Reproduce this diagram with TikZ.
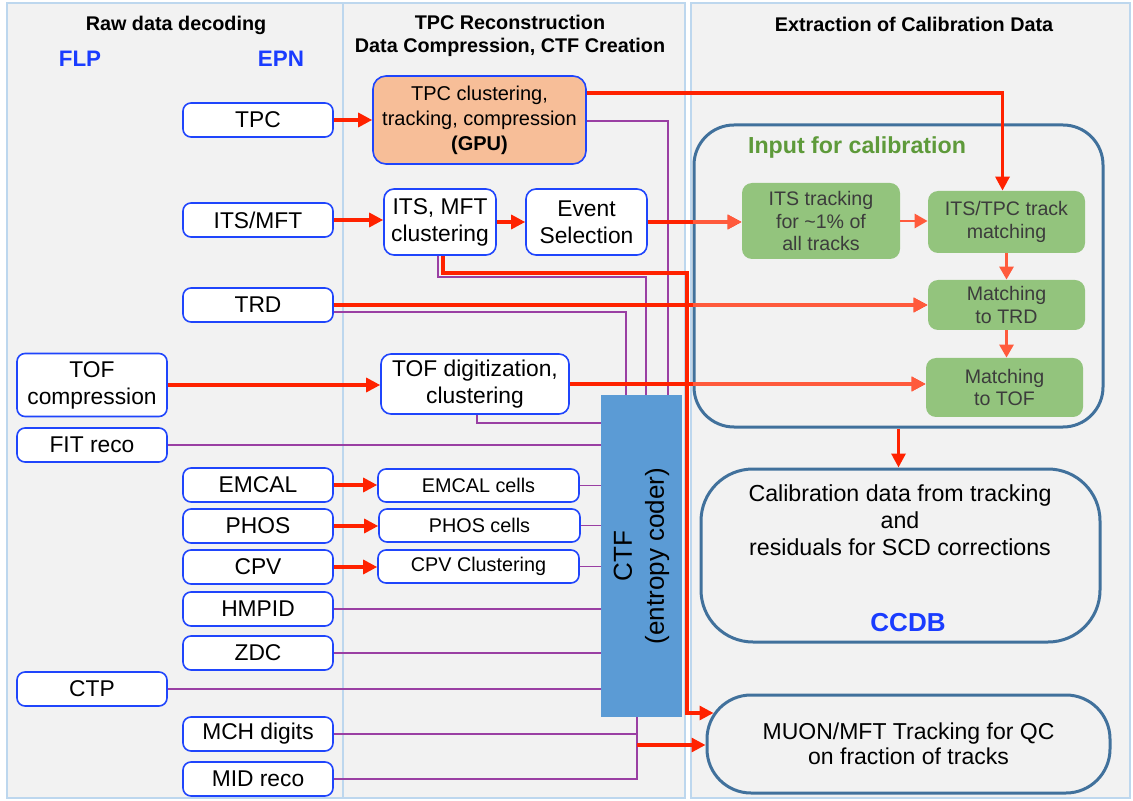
\documentclass[tikz,border=0pt]{standalone}
\usepackage{fontspec}
\setmainfont{Liberation Sans}
\usepackage{graphicx}
\usetikzlibrary{arrows.meta}
\definecolor{panelGray}{HTML}{F2F2F2}
\definecolor{panelEdge}{HTML}{BDD7EE}
\definecolor{boxBlue}{HTML}{1F45FC}
\definecolor{hdrBlue}{HTML}{1A3CFF}
\definecolor{arrRed}{HTML}{FF2200}
\definecolor{arrTomato}{HTML}{FF5A3C}
\definecolor{busPurple}{HTML}{9A3FA3}
\definecolor{gpuOrange}{HTML}{F7BE98}
\definecolor{ctfBlue}{HTML}{5B9BD5}
\definecolor{calEdge}{HTML}{41719C}
\definecolor{calGreen}{HTML}{93C47D}
\definecolor{calTitle}{HTML}{5E9A3A}
\definecolor{calText}{HTML}{3C3C3C}

\begin{document}
\begin{tikzpicture}[x=0.5pt, y=-0.5pt,
    hdr/.style={font=\fontsize{9.9}{11.5}\selectfont\bfseries, align=center},
    site/.style={font=\fontsize{11.2}{13}\selectfont\bfseries, text=hdrBlue},
    epnbox/.style={draw=boxBlue, fill=white, line width=0.8pt, rounded corners=4pt,
      minimum width=75pt, minimum height=17pt, inner sep=1pt, align=center,
      font=\fontsize{11.4}{13.5}\selectfont},
    cellbox/.style={epnbox, minimum width=100.5pt, minimum height=16.5pt,
      font=\fontsize{9.9}{12}\selectfont},
    ctfbox/.style={fill=ctfBlue, minimum width=40.5pt, minimum height=161pt, inner sep=0pt,
      font=\fontsize{13}{16}\selectfont},
    calframe/.style={draw=calEdge, line width=1.5pt, rounded corners=20pt, align=center,
      font=\fontsize{11.5}{12.5}\selectfont},
    greenbox/.style={fill=calGreen, rounded corners=5pt, text=calText, align=center,
      inner sep=1pt, font=\fontsize{9.8}{11.3}\selectfont},
    redarr/.style={draw=arrRed, line width=1.6pt, -{Triangle[length=7pt, width=7pt]}},
    fadearr/.style={redarr, draw=arrTomato},
    tomarr/.style={draw=arrTomato, line width=1.4pt, -{Triangle[length=6.5pt, width=7pt]}},
    pline/.style={draw=busPurple, line width=0.75pt}]
  \useasboundingbox (0,0) rectangle (1133,801);

  % panels
  \filldraw[fill=panelGray, draw=panelEdge, line width=1.2pt] (7,3) rectangle (343,798);
  \filldraw[fill=panelGray, draw=panelEdge, line width=1.2pt] (343,3) rectangle (685,798);
  \filldraw[fill=panelGray, draw=panelEdge, line width=1.2pt] (691,3) rectangle (1130,798);

  \node[hdr] (hraw) at (176,25) {Raw data decoding};
  \node[hdr] (htpc) at (510,36) {TPC Reconstruction\\Data Compression, CTF Creation};
  \node[hdr] (hcal) at (914,24) {Extraction of Calibration Data};
  \node[site] (flp) at (80,59) {FLP};
  \node[site] (epn) at (281,59) {EPN};

  % raw data decoding
  \node[epnbox] (tpc) at (258,120) {TPC};
  \node[epnbox] (itsmft) at (258,220) {ITS/MFT};
  \node[epnbox] (trd) at (258,305) {TRD};
  \node[epnbox, minimum height=31.5pt] (tofc) at (92,385) {TOF\\compression};
  \node[epnbox] (fit) at (92,445) {FIT reco};
  \node[epnbox] (emcal) at (258,485) {EMCAL};
  \node[epnbox] (phos) at (258,526) {PHOS};
  \node[epnbox] (cpv) at (258,567) {CPV};
  \node[epnbox] (hmpid) at (258,609) {HMPID};
  \node[epnbox] (zdc) at (258,653) {ZDC};
  \node[epnbox] (ctp) at (92,689) {CTP};
  \node[epnbox] (mch) at (258,734) {MCH digits};
  \node[epnbox] (mid) at (258,779) {MID reco};

  % reconstruction / compression
  \node[epnbox, fill=gpuOrange, rounded corners=6.5pt, minimum width=106.5pt, minimum height=44pt,
    font=\fontsize{10}{12.5}\selectfont] (tpcgpu) at (479.5,120)
    {TPC clustering,\\tracking, compression\\\textbf{(GPU)}};
  \node[epnbox, rounded corners=5pt, minimum width=56pt, minimum height=33pt] (itsclu) at (440,222) {ITS, MFT\\clustering};
  \node[epnbox, rounded corners=5pt, minimum width=60.5pt, minimum height=33pt] (evsel) at (586.5,222) {Event\\Selection};
  \node[epnbox, rounded corners=5pt, minimum width=94pt, minimum height=30pt] (tofdig) at (475,384) {TOF digitization,\\clustering};
  \node[cellbox] (emcalc) at (478.5,485.5) {EMCAL cells};
  \node[cellbox] (phosc) at (479.5,525.5) {PHOS cells};
  \node[cellbox] (cpvc) at (478.5,566.5) {CPV Clustering};
  \node[ctfbox] (ctf) at (641.5,556)
    {\rotatebox{90}{\begin{tabular}{@{}c@{}}CTF\\(entropy coder)\end{tabular}}};

  % calibration
  \node[calframe, minimum width=204.5pt, minimum height=151pt] (incal) at (898.5,276) {};
  \node[font=\fontsize{11.6}{13}\selectfont\bfseries, text=calTitle] (inlbl) at (857,148) {Input for calibration};
  \node[greenbox, minimum width=79pt, minimum height=38pt] (itstrk) at (821,221) {ITS tracking\\for \textasciitilde1\% of\\all tracks};
  \node[greenbox, minimum width=78.5pt, minimum height=31pt] (itstpc) at (1006.5,222) {ITS/TPC track\\matching};
  \node[greenbox, minimum width=78.5pt, minimum height=25pt] (mtrd) at (1006.5,305) {Matching\\to TRD};
  \node[greenbox, minimum width=78.5pt, minimum height=29.5pt] (mtof) at (1004.5,387.5) {Matching\\to TOF};
  \node[calframe, rounded corners=26pt, minimum width=199.5pt, minimum height=86.5pt] (calbox) at (900.5,555.5) {};
  \node[align=center, font=\fontsize{11.6}{13.5}\selectfont] (caltxt) at (900,520)
    {Calibration data from tracking\\and\\residuals for SCD corrections};
  \node[site, font=\fontsize{13}{15}\selectfont\bfseries] (ccdb) at (908,623) {CCDB};
  \node[calframe, rounded corners=22pt, minimum width=201.5pt, minimum height=49pt] (muon) at (908.5,744)
    {MUON/MFT Tracking for QC\\on fraction of tracks};

  % purple lines into the CTF
  \coordinate (busgpu) at (668,0);
  \coordinate (busits) at (646,277);
  \coordinate (bustrd) at (626,312);
  \coordinate (bustof) at (477,423);
  \coordinate (join) at (637,745);
  \draw[pline] ([yshift=-0.5pt]tpcgpu.east) -| (busgpu |- ctf.north);
  \draw[pline] ([xshift=-1pt]itsclu.south) |- (busits) -- (busits |- ctf.north);
  \draw[pline] (trd.east |- bustrd) -- (bustrd) -- (bustrd |- ctf.north);
  \draw[pline] ([xshift=1pt]tofdig.south) |- (ctf.west |- bustof);
  \foreach \n in {fit, emcalc, phosc, cpvc, hmpid, zdc, ctp}
    \draw[pline] (\n.east) -- (\n.east -| ctf.west);
  \draw[pline] (join |- ctf.south) -- (join |- mid.east) -- (mid.east);
  \draw[pline] (mch.east) -- (mch.east -| join);

  % red data flow
  \draw[redarr] (tpc.east) -- (tpcgpu.west);
  \draw[redarr] (itsmft.east) -- (itsmft.east -| itsclu.west);
  \draw[redarr] (itsclu.east) -- (evsel.west);
  \draw[redarr] (evsel.east) -- (evsel.east -| itstrk.west);
  \draw[redarr] ([yshift=13.5pt]tpcgpu.east) -| ([xshift=-2pt]itstpc.north);
  \draw[redarr] (trd.east) -- (trd.east -| mtrd.west);
  \draw[redarr] (tofc.east) -- (tofc.east -| tofdig.west);
  \draw[redarr] (tofdig.east) -- (tofdig.east -| mtof.west);
  \draw[redarr] (emcal.east) -- (emcal.east -| emcalc.west);
  \draw[redarr] (phos.east) -- (phos.east -| phosc.west);
  \draw[redarr] (cpv.east) -- (cpv.east -| cpvc.west);
  \draw[redarr] ([xshift=1.5pt]itsclu.south) |- (687,273) |- ([xshift=4pt,yshift=15.5pt]muon.west);
  \draw[redarr] (join) -- (join -| muon.west);
  \draw[redarr] (incal.south) -- (incal.south |- calbox.north);
  % lighter inside the calibration panel
  \draw[fadearr] (evsel.east -| incal.west) -- (evsel.east -| itstrk.west);
  \draw[fadearr] (trd.east -| incal.west) -- (trd.east -| mtrd.west);
  \draw[fadearr] (tofdig.east -| incal.west) -- (tofdig.east -| mtof.west);
  \draw[tomarr] (itstrk.east) -- (itstrk.east -| itstpc.west);
  \draw[tomarr] (itstpc.south) -- (mtrd.north);
  \draw[tomarr] (mtrd.south) -- (mtrd.south |- mtof.north);
\end{tikzpicture}
\end{document}
